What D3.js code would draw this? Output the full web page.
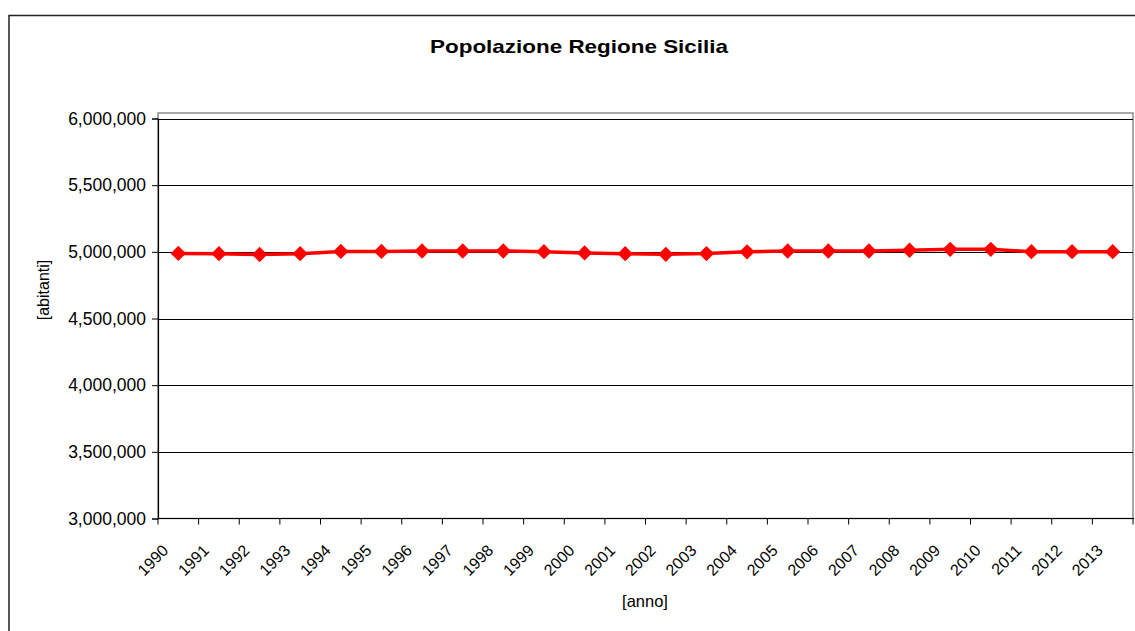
<!DOCTYPE html>
<html>
<head>
<meta charset="utf-8">
<script src="https://cdn.jsdelivr.net/npm/d3@7/dist/d3.min.js"></script>
<style>
  html, body { margin: 0; padding: 0; background: #fff; }
  svg { display: block; font-family: "Liberation Sans", Arial, sans-serif; }
</style>
</head>
<body>
<svg id="chart" width="1135" height="631"></svg>
<script>
// Resident population of Sicily, 1990–2013
const years = ["1990","1991","1992","1993","1994","1995","1996","1997","1998","1999","2000","2001",
               "2002","2003","2004","2005","2006","2007","2008","2009","2010","2011","2012","2013"];
const abitanti = [4988000, 4986000, 4980000, 4986000, 5003000, 5003000, 5006000, 5006000, 5006000, 5001000, 4992000, 4986000,
                  4981000, 4987000, 5000000, 5006000, 5006000, 5006000, 5012000, 5019000, 5019000, 5001000, 5001000, 5001000];
const yTicks = [3000000, 3500000, 4000000, 4500000, 5000000, 5500000, 6000000];
const title = "Popolazione Regione Sicilia";
const xTitle = "[anno]";
const yTitle = "[abitanti]";

const svg = d3.select("#chart");
const plot = { left: 158, right: 1133, top: 118.5, bottom: 518.5, frameTop: 113 };

// outer chart frame (only the top and left edges fall inside the view)
svg.append("path")
  .attr("d", "M9,640 L9,15.5 L1145,15.5")
  .attr("fill", "none").attr("stroke", "#222").attr("stroke-width", 1.5);

const x = d3.scaleBand().domain(years).range([plot.left, plot.right]).padding(0);
const y = d3.scaleLinear().domain([3000000, 6000000]).range([plot.bottom, plot.top]);

// plot area frame
svg.append("rect")
  .attr("x", plot.left).attr("y", plot.frameTop)
  .attr("width", plot.right - plot.left).attr("height", plot.bottom - plot.frameTop)
  .attr("fill", "none").attr("stroke", "#8c8c8c").attr("stroke-width", 1.5);

// horizontal gridlines
svg.append("g").selectAll("line").data(yTicks.slice(1)).join("line")
  .attr("x1", plot.left).attr("x2", plot.right)
  .attr("y1", d => Math.round(y(d)) + 0.5).attr("y2", d => Math.round(y(d)) + 0.5)
  .attr("stroke", "#000").attr("stroke-width", 1);

// y axis
const yAxis = svg.append("g")
  .attr("transform", `translate(${plot.left},0)`)
  .call(d3.axisLeft(y).tickValues(yTicks).tickSize(6).tickPadding(6)
    .tickFormat(d3.format(",")));
yAxis.select(".domain").attr("stroke", "#000").attr("stroke-width", 1.2);
yAxis.selectAll(".tick line").attr("stroke", "#000");
yAxis.selectAll(".tick text").attr("font-size", 17.5).attr("fill", "#000")
  .attr("font-family", "'Liberation Sans', Arial, sans-serif");

// x axis: ticks sit on category boundaries
const xAxisG = svg.append("g").attr("transform", `translate(0,${plot.bottom})`);
xAxisG.append("line")
  .attr("x1", plot.left).attr("x2", plot.right + 1)
  .attr("stroke", "#000").attr("stroke-width", 1.2);
xAxisG.selectAll("line.tk").data(years.concat(["end"])).join("line")
  .attr("class", "tk")
  .attr("x1", (d, i) => i < years.length ? x(d) : plot.right)
  .attr("x2", (d, i) => i < years.length ? x(d) : plot.right)
  .attr("y1", 0).attr("y2", 6)
  .attr("stroke", "#000");
xAxisG.selectAll("text").data(years).join("text")
  .attr("transform", d => `translate(${x(d) + x.bandwidth() / 2 - 9},${33}) rotate(-45)`)
  .attr("text-anchor", "end")
  .attr("font-size", 16)
  .attr("fill", "#000")
  .text(d => d);

// population line
const cx = d => x(d) + x.bandwidth() / 2;
svg.append("path")
  .datum(years.map((d, i) => [cx(d), y(abitanti[i])]))
  .attr("d", d3.line())
  .attr("fill", "none").attr("stroke", "#ff0000").attr("stroke-width", 3.5)
  .attr("stroke-linejoin", "round");

// diamond markers
const diamond = d3.symbol().type(d3.symbolDiamond2).size(150);
svg.append("g").selectAll("path").data(years).join("path")
  .attr("transform", (d, i) => `translate(${cx(d)},${y(abitanti[i])})`)
  .attr("d", diamond)
  .attr("fill", "#ff0000");

// titles
svg.append("text")
  .attr("x", 579).attr("y", 53)
  .attr("text-anchor", "middle").attr("font-weight", "bold").attr("font-size", 19)
  .attr("textLength", 298).attr("lengthAdjust", "spacingAndGlyphs")
  .attr("fill", "#000").text(title);

svg.append("text")
  .attr("x", 645).attr("y", 607)
  .attr("text-anchor", "middle").attr("font-size", 16.5)
  .attr("fill", "#000").text(xTitle);

svg.append("text")
  .attr("transform", "translate(49,290) rotate(-90)")
  .attr("text-anchor", "middle").attr("font-size", 16)
  .attr("fill", "#000").text(yTitle);
</script>
</body>
</html>
